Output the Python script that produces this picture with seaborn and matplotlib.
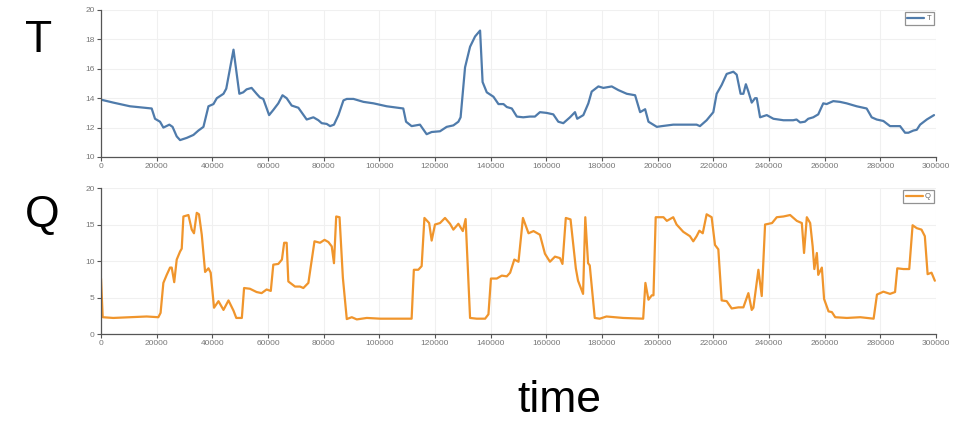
import matplotlib
matplotlib.use("Agg")
import matplotlib.pyplot as plt
import seaborn as sns
import pandas as pd

# ---- data ----
t_time = [0, 4400, 10400, 18200, 19400, 21200, 22400, 24550, 25700, 27200, 28400, 30800,
          33200, 35000, 36800, 38600, 40400, 41600, 44000, 45000, 47600, 49700, 51100,
          52300, 54100, 55900, 57100, 58300, 60400, 61900, 63700, 65200, 66700, 68500,
          70900, 73900, 76300, 78100, 79300, 81100, 82300, 83700, 85300, 87100, 88300,
          90700, 94300, 97900, 102650, 108600, 109600, 111600, 114600, 117000, 118800,
          121800, 124200, 126600, 128400, 129200, 130800, 132600, 134400, 136200, 137100,
          138600, 141000, 142800, 144600, 145800, 147600, 149400, 151700, 154100, 155900,
          157700, 160100, 162500, 164300, 166100, 168500, 170300, 171100, 173300, 175100,
          176300, 178700, 180500, 183500, 185900, 188900, 191900, 193700, 195500, 196700,
          199700, 201500, 205600, 214000, 215200, 217600, 220000, 221200, 223000, 224800,
          227200, 228400, 229800, 230800, 231700, 232600, 233800, 235000, 235600, 236800,
          239200, 241600, 245200, 248700, 249900, 251200, 252900, 254100, 255900, 257700,
          259500, 260700, 263100, 265500, 267900, 271500, 275100, 276900, 278700, 281100,
          283500, 287100, 288900, 290100, 291900, 293100, 294300, 296700, 299300]
t_vals = [13.9, 13.7, 13.45, 13.3, 12.6, 12.4, 12.0, 12.2, 12.05, 11.4, 11.15, 11.3,
          11.5, 11.8, 12.05, 13.45, 13.6, 14.0, 14.3, 14.65, 17.3, 14.3, 14.4,
          14.6, 14.7, 14.3, 14.05, 13.95, 12.85, 13.2, 13.65, 14.2, 14.0, 13.5,
          13.35, 12.55, 12.7, 12.5, 12.3, 12.25, 12.1, 12.2, 12.85, 13.85, 13.95,
          13.95, 13.75, 13.65, 13.45, 13.3, 12.4, 12.1, 12.2, 11.55, 11.7,
          11.75, 12.05, 12.15, 12.4, 12.7, 16.1, 17.5, 18.2, 18.6, 15.1,
          14.4, 14.1, 13.6, 13.6, 13.4, 13.3, 12.75, 12.7, 12.75, 12.75,
          13.05, 13.0, 12.9, 12.4, 12.3, 12.7, 13.05, 12.6, 12.85, 13.65,
          14.45, 14.8, 14.7, 14.8, 14.55, 14.3, 14.2, 13.05, 13.25, 12.4,
          12.05, 12.1, 12.2, 12.2, 12.1, 12.5, 13.05, 14.3, 14.9, 15.65,
          15.8, 15.6, 14.3, 14.3, 14.95, 14.45, 13.7, 14.0, 14.0, 12.7,
          12.85, 12.6, 12.5, 12.5, 12.55, 12.35, 12.4, 12.6, 12.7, 12.9,
          13.65, 13.6, 13.8, 13.75, 13.65, 13.45, 13.3, 12.7, 12.55, 12.45,
          12.1, 12.1, 11.65, 11.65, 11.8, 11.85, 12.2, 12.55, 12.85]

q_time = [0, 600, 4400, 10400, 16400, 20600, 21400, 22400, 23600, 24800, 25400, 26300,
          27200, 28400, 29000, 29600, 31400, 32600, 33400, 34400, 35200, 36200, 37400,
          38600, 39400, 40600, 42200, 44000, 45800, 47600, 48600, 50600, 51400, 53500,
          55900, 57700, 59500, 61000, 61900, 63700, 65000, 65800, 66700, 67300, 69700,
          71500, 72700, 74500, 76700, 78700, 80300, 81700, 82900, 83700, 84500, 85700,
          86900, 88300, 90100, 91900, 95500, 100300, 111600, 112400, 114000, 115200,
          116200, 117900, 118800, 120000, 121800, 123600, 125400, 126600, 128400, 130000,
          131000, 132600, 135000, 138000, 139200, 140100, 142200, 144000, 145800, 147000,
          148500, 150000, 151600, 153600, 155400, 157700, 159500, 161300, 163100, 164900,
          165800, 167000, 168700, 169600, 170600, 171400, 173200, 174000, 175000, 175600,
          177400, 179200, 181600, 187600, 194800, 195600, 196700, 197900, 198500, 199300,
          202100, 203300, 205600, 206800, 209200, 211600, 212800, 214000, 215000, 216200,
          217600, 219400, 220600, 221800, 223000, 224800, 226600, 229000, 230800, 232600,
          233800, 234400, 236200, 237400, 238600, 241100, 242800, 245200, 247600, 250000,
          251800, 252600, 253600, 254800, 255700, 256300, 257200, 257700, 259000, 259800,
          261400, 262600, 263800, 268000, 272800, 277600, 278800, 281100, 283500, 285300,
          286100, 288300, 290400, 291600, 293100, 294800, 296000, 297000, 298400, 299600]
q_vals = [7.6, 2.3, 2.2, 2.3, 2.4, 2.3, 2.9, 7.0, 8.1, 9.1, 9.1, 7.1,
          10.2, 11.3, 11.7, 16.1, 16.3, 14.3, 13.8, 16.6, 16.4, 13.6, 8.5,
          9.0, 8.4, 3.6, 4.5, 3.3, 4.6, 3.2, 2.2, 2.2, 6.3, 6.2,
          5.75, 5.6, 6.1, 5.9, 9.5, 9.6, 10.2, 12.5, 12.5, 7.2, 6.5,
          6.5, 6.3, 7.0, 12.7, 12.5, 12.9, 12.6, 12.0, 9.7, 16.1, 16.0,
          7.7, 2.05, 2.3, 2.0, 2.2, 2.1, 2.1, 8.8, 8.8, 9.3,
          15.9, 15.2, 12.8, 15.0, 15.2, 15.9, 15.1, 14.3, 15.1, 14.1,
          15.75, 2.2, 2.1, 2.1, 2.7, 7.6, 7.6, 8.0, 7.9, 8.4,
          10.2, 9.9, 15.9, 13.8, 14.1, 13.6, 11.0, 9.9, 10.6, 10.4,
          9.6, 15.9, 15.7, 12.5, 9.0, 7.3, 5.5, 16.0, 9.7, 9.4,
          2.2, 2.1, 2.4, 2.2, 2.1, 7.0, 4.7, 5.3, 5.3, 16.0,
          16.0, 15.5, 16.0, 15.0, 14.0, 13.4, 12.7, 13.4, 14.15, 13.8,
          16.4, 16.0, 12.2, 11.6, 4.6, 4.5, 3.5, 3.65, 3.65, 5.6,
          3.3, 3.6, 8.8, 5.2, 15.0, 15.2, 16.0, 16.1, 16.3, 15.5,
          15.2, 11.1, 16.0, 15.2, 12.0, 8.9, 11.1, 8.1, 9.1, 4.8,
          3.1, 3.0, 2.3, 2.2, 2.3, 2.1, 5.4, 5.8, 5.5, 5.75,
          9.0, 8.9, 8.9, 14.9, 14.5, 14.3, 13.4, 8.2, 8.4, 7.3]

x_ticks = [0, 20000, 40000, 60000, 80000, 100000, 120000, 140000, 160000, 180000,
           200000, 220000, 240000, 260000, 280000, 300000]
t_ticks = [10, 12, 14, 16, 18, 20]
q_ticks = [0, 5, 10, 15, 20]

df_t = pd.DataFrame({"time": t_time, "value": t_vals, "series": "T"})
df_q = pd.DataFrame({"time": q_time, "value": q_vals, "series": "Q"})

sns.set_theme(style="white")
plt.rcParams["font.family"] = ["Liberation Sans", "DejaVu Sans"]

fig = plt.figure(figsize=(9.77, 4.25), dpi=100)
ax1 = fig.add_axes([0.1034, 0.6306, 0.8546, 0.3459])
ax2 = fig.add_axes([0.1034, 0.2141, 0.8546, 0.3435])

blue = "#4f7bab"
orange = "#f0952c"

sns.lineplot(data=df_t, x="time", y="value", hue="series", palette=[blue], ax=ax1,
             linewidth=1.6, solid_joinstyle="round")
sns.lineplot(data=df_q, x="time", y="value", hue="series", palette=[orange], ax=ax2,
             linewidth=1.6, solid_joinstyle="round")

for ax, yt, ylim in [(ax1, t_ticks, (10, 20)), (ax2, q_ticks, (0, 20))]:
    ax.set_xlim(0, 300000)
    ax.set_ylim(*ylim)
    ax.set_xticks(x_ticks)
    ax.set_xticklabels([str(v) for v in x_ticks])
    ax.set_yticks(yt)
    ax.set_xlabel("")
    ax.set_ylabel("")
    ax.grid(True, color="#f0f0f0", linewidth=0.8)
    ax.set_axisbelow(True)
    for s in ["top", "right"]:
        ax.spines[s].set_visible(False)
    for s in ["left", "bottom"]:
        ax.spines[s].set_color("#555555")
        ax.spines[s].set_linewidth(0.9)
    ax.tick_params(axis="both", which="both", labelsize=6, labelcolor="#777777",
                   length=3, width=0.8, color="#555555", pad=1.5,
                   left=True, bottom=True)
    leg = ax.legend(loc="upper right", fontsize=5.5, frameon=True, fancybox=False,
                    handlelength=2.2, handletextpad=0.3, borderpad=0.35,
                    borderaxespad=0.3, labelcolor="#666666")
    leg.get_frame().set_edgecolor("#777777")
    leg.get_frame().set_linewidth(0.9)

fig.text(0.039, 0.905, "T", fontsize=32, ha="center", va="center", color="black")
fig.text(0.043, 0.493, "Q", fontsize=32, ha="center", va="center", color="black")
fig.text(0.573, 0.058, "time", fontsize=32, ha="center", va="center", color="black")

fig.savefig("out.png", dpi=100)
